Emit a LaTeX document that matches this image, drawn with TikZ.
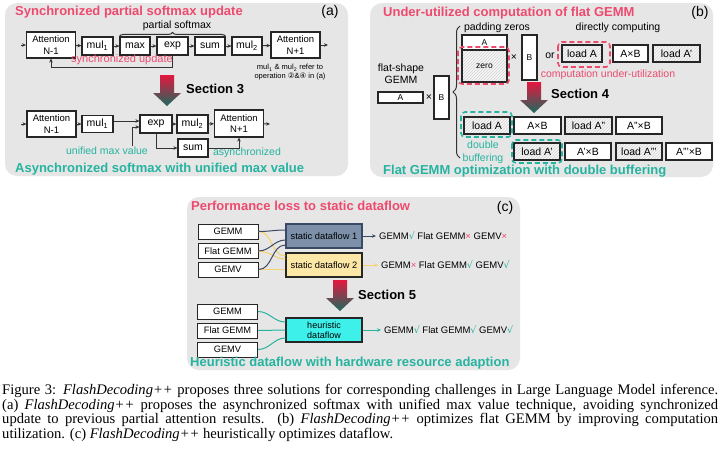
\documentclass[tikz,border=0pt]{standalone}
\usepackage{fontspec}
\setmainfont{Liberation Sans}
\newfontfamily\capfont{Liberation Serif}
\newfontfamily\symf{DejaVu Sans}
\usetikzlibrary{arrows.meta,decorations.pathreplacing,patterns}
\definecolor{panelgray}{HTML}{E6E6E6}
\definecolor{boxc}{HTML}{262626}
\definecolor{lineg}{HTML}{333333}
\definecolor{pinkc}{HTML}{EE4A6E}
\definecolor{tealc}{HTML}{26B3A0}
\definecolor{secred}{HTML}{E5173F}
\definecolor{secgreen}{HTML}{1B6B5E}
\definecolor{slatef}{HTML}{7D90AA}
\definecolor{slatel}{HTML}{3A4A66}
\definecolor{yelf}{HTML}{FDE7A6}
\definecolor{yell}{HTML}{F7D26A}
\definecolor{cyanf}{HTML}{3EF0EA}
\newcommand{\yes}{{\color{tealc}\symf √}}
\newcommand{\no}{{\color{pinkc}×}}
\newcommand{\secarrow}[2]{\shade[top color=secred,bottom color=secgreen] (#1-7,#2) -- (#1+7,#2) -- (#1+7,#2+18) -- (#1+14,#2+18) -- (#1,#2+31) -- (#1-14,#2+18) -- (#1-7,#2+18) -- cycle;}

\begin{document}
\begin{tikzpicture}[x=1pt,y=-1pt,
  panel/.style={fill=panelgray,rounded corners=12pt},
  bx/.style 2 args={draw=boxc,line width=1.1pt,fill=white,inner sep=0pt,minimum width=#1pt,minimum height=#2pt,font=\fontsize{10.5}{12}\selectfont},
  hbx/.style 2 args={bx={#1}{#2},preaction={fill=gray!6},pattern=north east lines,pattern color=gray!35},
  att/.style={bx={49}{26},align=center,font=\fontsize{9.5}{11.5}\selectfont},
  cbx/.style={bx={60}{15},line width=1pt,font=\fontsize{9.3}{11}\selectfont},
  arr/.style={draw=lineg,line width=0.9pt,-{Stealth[length=4pt,width=3.5pt]}},
  ln/.style={line width=1pt},
  ttl/.style={anchor=west,inner sep=0pt,font=\bfseries\fontsize{13}{15}\selectfont},
  tag/.style={inner sep=0pt,font=\fontsize{14}{16}\selectfont},
  sec/.style={anchor=west,inner sep=0pt,font=\bfseries\fontsize{13}{15}\selectfont},
  txt/.style={inner sep=0pt,font=\fontsize{10.5}{12}\selectfont},
  res/.style={anchor=west,inner sep=3pt,font=\fontsize{9.5}{11}\selectfont},
  dsh/.style={dash pattern=on 5pt off 3pt,line width=1.6pt,rounded corners=4pt}]
\useasboundingbox (0,0) rectangle (720,456);
\fill[white] (0,0) rectangle (720,456);
\fill[panel] (5,3) rectangle (348,176);
\fill[panel] (370,3) rectangle (713,177);
\fill[panel] (187,197) rectangle (520,370);

\node[ttl,pinkc] (titleA) at (15,12) {Synchronized partial softmax update};
\node[tag] (tagA) at (330,12) {(a)};
\coordinate (inA) at (21,45);
\node[att] (attA1) at (51,45) {Attention\\N-1};
\node[bx={31}{18}] (mulA) at (97.5,46) {mul\textsubscript{1}};
\node[bx={30}{18}] (maxA) at (135,46) {max};
\node[bx={31}{18}] (expA) at (172.5,46) {exp};
\node[bx={30}{18}] (sumA) at (210,46) {sum};
\node[bx={30}{18}] (mul2A) at (247,46) {mul\textsubscript{2}};
\node[att] (attA2) at (295.5,45) {Attention\\N+1};
\coordinate (outA) at (328,45);
\draw[arr] (inA) -- (attA1);
\draw[arr] (attA1) -- (mulA);
\draw[arr] (mulA) -- (maxA);
\draw[arr] (maxA) -- (expA);
\draw[arr] (expA) -- (sumA);
\draw[arr] (sumA) -- (mul2A);
\draw[arr] (mul2A) -- (attA2);
\draw[arr] (attA2) -- (outA);
\draw[ln,lineg,decorate,decoration={brace,amplitude=4pt}] (maxA.north west) -- (sumA.north east);
\node[txt] (psoft) at (177,26) {partial softmax};
\draw[arr] (expA.south) -- ++(0,12) -| (attA1.south);
\node[txt,pinkc,font=\fontsize{11}{12}\selectfont] (syncA) at (122,60) {synchronized update};
\node[inner sep=0pt,align=center,font=\fontsize{7.5}{9}\selectfont] (noteA) at (290,72.5) {mul\textsubscript{1} \& mul\textsubscript{2} refer to\\operation {\symf ②}\&{\symf ④} in (a)};

\secarrow{167}{75}
\node[sec] (sec3) at (186,89) {Section 3};

\coordinate (inB) at (21,124);
\node[att] (attB1) at (51.5,124) {Attention\\N-1};
\node[bx={31}{17}] (mulB) at (97.5,124) {mul\textsubscript{1}};
\node[bx={32}{18}] (expB) at (156,124) {exp};
\node[bx={31}{18}] (mul2B) at (192.5,124) {mul\textsubscript{2}};
\node[att,minimum height=27pt] (attB2) at (239,123.5) {Attention\\N+1};
\node[bx={30}{18}] (sumB) at (193,148) {sum};
\coordinate (outB) at (270,124);
\coordinate (umv) at (132,146);
\draw[arr] (inB) -- (attB1);
\draw[arr] (attB1) -- (mulB);
\draw[arr] ([yshift=3pt]mulB.east) -- ([yshift=3pt]mulB.east -| expB.west);
\draw[arr] (umv) |- ([yshift=-3pt]expB.west);
\draw[arr] (expB) -- (mul2B);
\draw[arr] (mul2B) -- (attB2);
\draw[arr] (attB2) -- (outB);
\draw[arr] (expB.south) |- (sumB.west);
\draw[arr] (sumB.east) -| (attB2.south);
\node[txt,tealc] (umvlbl) at (107,151) {unified max value};
\node[txt,tealc] (asyncB) at (247,153) {asynchronized};
\node[ttl,tealc] (titleA2) at (15,169) {Asynchronized softmax with unified max value};

\node[ttl,pinkc] (titleB) at (383,13) {Under-utilized computation of flat GEMM};
\node[tag] (tagB) at (700,13) {(b)};
\node[txt,align=center,font=\fontsize{10.5}{12}\selectfont] (flatlbl) at (401,74) {flat-shape\\GEMM};
\node[bx={45}{11},font=\fontsize{8.5}{10}\selectfont] (fA) at (400.5,97.5) {A};
\node[txt] (fX) at (429,97.5) {×};
\node[bx={15}{43},font=\fontsize{8.5}{10}\selectfont] (fB) at (441.5,97.5) {B};
\draw[ln,lineg,decorate,decoration={brace,amplitude=7pt}] (460,158) -- (460,26);
\node[txt] (padlbl) at (497,28) {padding zeros};
\node[bx={45}{15},font=\fontsize{8.5}{10}\selectfont] (pA) at (484.5,42.5) {A};
\node[hbx={45}{32},font=\fontsize{8.5}{10}\selectfont] (pZ) at (484.5,66) {zero};
\draw[dsh,pinkc] (458,47) rectangle (509,84);
\node[txt] (pX) at (514,58) {×};
\node[bx={15}{45},font=\fontsize{8.5}{10}\selectfont] (pB) at (529.5,57.5) {B};
\node[txt] (orlbl) at (550,56) {or};
\node[txt] (dirlbl) at (618,28) {directly computing};
\node[hbx={40}{17}] (dLoad) at (582,53.5) {load A};
\node[bx={35}{17}] (dAB) at (630.5,53.5) {A×B};
\node[hbx={47}{17}] (dLoad2) at (676.5,53.5) {load A'};
\draw[dsh,pinkc] (558,42) rectangle (610,67);
\node[txt,pinkc] (underlbl) at (608,75) {computation under-utilization};

\secarrow{534}{82}
\node[sec] (sec4) at (551,94) {Section 4};

\node[hbx={46}{17}] (r1a) at (487,125.5) {load A};
\node[bx={47}{17}] (r1b) at (537.5,125.5) {A×B};
\node[hbx={47}{17}] (r1c) at (588.5,125.5) {load A''};
\node[bx={46}{17}] (r1d) at (639,125.5) {A''×B};
\node[hbx={46}{17}] (r2a) at (537,151.5) {load A'};
\node[bx={46}{17}] (r2b) at (588,151.5) {A'×B};
\node[hbx={46}{17}] (r2c) at (639,151.5) {load A'''};
\node[bx={46}{17}] (r2d) at (689,151.5) {A'''×B};
\draw[dsh,tealc] (461,112) rectangle (512,137);
\draw[dsh,tealc] (512,140) rectangle (562,163);
\node[txt,tealc,align=center,font=\fontsize{10.5}{13}\selectfont] (dblbl) at (483,152.5) {double\\buffering};
\node[ttl,tealc] (titleB2) at (383,171) {Flat GEMM optimization with double buffering};

\node[ttl,pinkc] (titleC) at (191,206) {Performance loss to static dataflow};
\node[tag] (tagC) at (505,208) {(c)};
\node[cbx] (cG1) at (228,231.5) {GEMM};
\node[cbx] (cF1) at (228,251) {Flat GEMM};
\node[cbx] (cV1) at (228,269.5) {GEMV};
\node[bx={76}{24},draw=slatel,fill=slatef,font=\fontsize{9.3}{11}\selectfont] (sd1) at (324,236) {static dataflow 1};
\node[bx={76}{24},fill=yelf,font=\fontsize{9.3}{11}\selectfont] (sd2) at (324,265) {static dataflow 2};
\draw[ln,yell] (cG1.east) to[out=0,in=180] (sd2.west |- 0,256);
\draw[ln,yell] (cF1.east) to[out=0,in=180] (sd2.west |- 0,259);
\draw[ln,yell] (cV1.east) -- (sd2.west |- 0,269.5);
\draw[ln,slatel] (cG1.east) to[out=0,in=180] (sd1.west |- 0,230);
\draw[ln,slatel] (cF1.east) to[out=0,in=180] (sd1.west |- 0,240);
\draw[ln,slatel] (cV1.east) to[out=0,in=180] (sd1.west |- 0,245);
\node[res] (res1) at (376,236) {GEMM\yes{} Flat GEMM\no{} GEMV\no};
\node[res] (res2) at (378,265) {GEMM\no{} Flat GEMM\yes{} GEMV\yes};
\draw[arr,slatel] (sd1) -- (res1);
\draw[arr,yell] (sd2) -- (res2);

\secarrow{340}{280}
\node[sec] (sec5) at (358,295) {Section 5};

\node[cbx] (cG2) at (227.5,311.5) {GEMM};
\node[cbx] (cF2) at (227.5,330.5) {Flat GEMM};
\node[cbx] (cV2) at (227.5,349.5) {GEMV};
\node[bx={76}{24},fill=cyanf,align=center,font=\fontsize{9}{10}\selectfont] (hd) at (324,330) {heuristic\\dataflow};
\draw[ln,tealc] (cG2.east) to[out=0,in=180] (hd.west |- 0,322);
\draw[ln,tealc] (cF2.east) -- (hd.west);
\draw[ln,tealc] (cV2.east) to[out=0,in=180] (hd.west |- 0,338);
\node[res] (res3) at (381,330) {GEMM\yes{} Flat GEMM\yes{} GEMV\yes};
\draw[arr,tealc] (hd) -- (res3);
\node[ttl,tealc] (titleC2) at (190,363) {Heuristic dataflow with hardware resource adaption};

\node[anchor=north west,inner sep=0pt,text width=716pt,align=justify,font=\capfont\fontsize{14.6}{14.7}\selectfont] (cap) at (2,384) {Figure 3: \textit{FlashDecoding++} proposes three solutions for corresponding challenges in Large Language Model inference.\linebreak (a) \textit{FlashDecoding++} proposes the asynchronized softmax with unified max value technique, avoiding synchronized\linebreak update to previous partial attention results. (b) \textit{FlashDecoding++} optimizes flat GEMM by improving computation\linebreak utilization. (c) \textit{FlashDecoding++} heuristically optimizes dataflow.};
\end{tikzpicture}
\end{document}
